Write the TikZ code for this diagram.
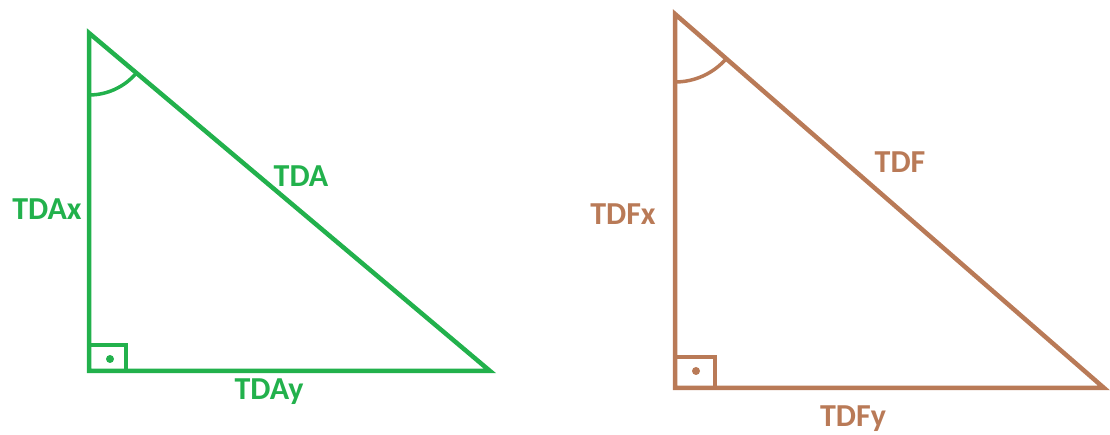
\documentclass[tikz,border=0pt]{standalone}
\usepackage{fontspec}
\setmainfont{Carlito}
\definecolor{paintgreen}{RGB}{34,177,76}
\definecolor{paintbrown}{RGB}{185,122,87}
\begin{document}
\begin{tikzpicture}[x=1pt,y=1pt,
  side/.style={line width=4.5pt, line join=miter},
  lbl/.style={anchor=base, inner sep=0pt, font=\fontsize{32}{36}\selectfont\bfseries}]
\useasboundingbox (0,0) rectangle (1110,435);
% green triangle
\coordinate (gA) at (89,402);
\coordinate (gC) at (89,64);
\coordinate (gB) at (490,64);
\draw[side, paintgreen] (gA) -- (gC) -- (gB) -- cycle;
\draw[paintgreen, line width=3.5pt] (89,340) arc[start angle=-90, end angle=-40.1, radius=62];
\draw[paintgreen, line width=3.5pt] (89,90) -| (126,64);
\fill[paintgreen] (110,76) circle (4);
\node[lbl, text=paintgreen] (tda) at (301,248) {TDA};
\node[lbl, text=paintgreen] (tdax) at (47,215) {TDAx};
\node[lbl, text=paintgreen] (tday) at (269,35) {TDAy};
% brown triangle
\coordinate (bA) at (675,421);
\coordinate (bC) at (675,47);
\coordinate (bB) at (1104,47);
\draw[side, paintbrown] (bA) -- (bC) -- (bB) -- cycle;
\draw[paintbrown, line width=3.5pt] (675,353) arc[start angle=-90, end angle=-41.1, radius=68];
\draw[paintbrown, line width=3.5pt] (675,78) -| (715,47);
\fill[paintbrown] (696,64) circle (4);
\node[lbl, text=paintbrown] (tdf) at (900,262) {TDF};
\node[lbl, text=paintbrown] (tdfx) at (623,210) {TDFx};
\node[lbl, text=paintbrown] (tdfy) at (853,8) {TDFy};
\end{tikzpicture}
\end{document}
